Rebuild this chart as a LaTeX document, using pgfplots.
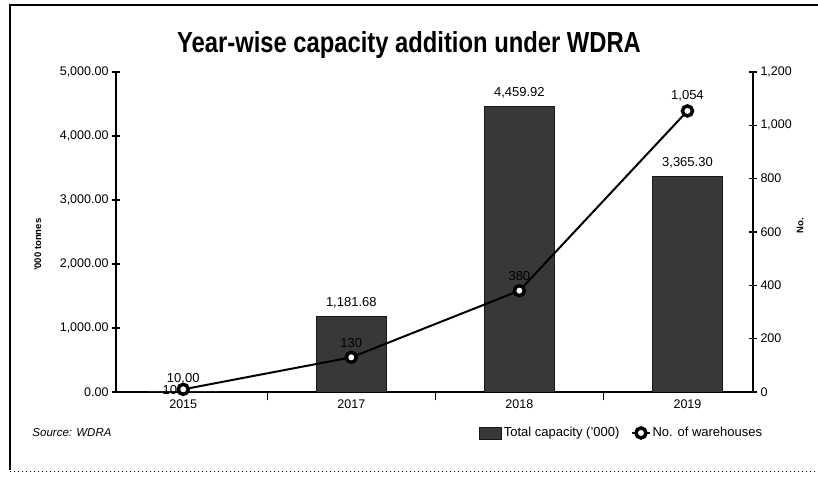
\documentclass[border=0pt]{standalone}
\usepackage{fontspec}
\setmainfont{Liberation Sans}
\usepackage{pgfplots}
\pgfplotsset{compat=1.18}
\usepackage{pgfplotstable}
\pgfplotsset{/pgf/number format/assume math mode=true}
\pgfplotstableread{
x cap
0 10
1 1181.68
2 4459.92
3 3365.30
}\captable
\pgfplotstableread{
x n lab
0 10 10
1 130 130
2 380 380
3 1054 1,054
}\whtable
\begin{document}
\begin{tikzpicture}
\path[use as bounding box] (0,0) rectangle (818pt,487pt);
\draw[line width=1.2pt] (10pt,17pt) -- (10pt,482pt) -- (818pt,482pt);
\draw[line width=1pt, dash pattern=on 1pt off 3pt] (10pt,16pt) -- (818pt,16pt);
\node at (409pt,442pt) {\scalebox{0.82}[1]{\fontsize{29}{32}\selectfont\bfseries Year-wise capacity addition under WDRA}};
\node at (72pt,54pt) {\fontsize{11.5}{13}\selectfont\itshape Source: WDRA};

\begin{axis}[
  at={(116pt,95pt)}, anchor=south west, scale only axis,
  width=637pt, height=320pt,
  xmin=-0.4, xmax=3.39, ymin=0, ymax=5000,
  axis x line=bottom, axis y line=left,
  axis line style={-, line width=1.2pt},
  xtick={0.5,1.5,2.5}, xticklabels={},
  extra x ticks={0,1,2,3}, extra x tick labels={2015,2017,2018,2019},
  extra x tick style={major tick length=0pt, tick label style={yshift=-4pt}},
  ytick={0,1000,...,5000}, scaled y ticks=false,
  y tick label style={/pgf/number format/.cd, fixed, fixed zerofill, precision=2, 1000 sep={,}},
  tick align=center, major tick length=8pt,
  tick style={line width=1.2pt, black},
  tick label style={font=\fontsize{12.5}{14}\selectfont},
  ylabel={\bfseries '000 tonnes},
  ylabel style={at={(rel axis cs:-0.1225,0.46)}, anchor=center, font=\fontsize{9.5}{11}\selectfont},
  ybar, bar width=70pt,
  nodes near coords,
  nodes near coords style={font=\fontsize{13}{15}\selectfont, yshift=5pt, /pgf/number format/.cd, fixed, fixed zerofill, precision=2, 1000 sep={,}},
]
\addplot[fill=black!78, draw=black!90] table[x=x,y=cap]{\captable};
\end{axis}

\begin{axis}[
  at={(116pt,95pt)}, anchor=south west, scale only axis,
  width=637pt, height=320pt,
  xmin=-0.4, xmax=3.39, ymin=0, ymax=1200,
  axis x line=none, axis y line=right,
  axis line style={-, line width=1.2pt},
  ytick={0,200,...,1200}, scaled y ticks=false,
  y tick label style={/pgf/number format/.cd, fixed, precision=0, 1000 sep={,}},
  tick align=center, major tick length=8pt,
  tick style={line width=1.2pt, black},
  tick label style={font=\fontsize{12.5}{14}\selectfont},
  ylabel={\bfseries No.},
  ylabel style={at={(rel axis cs:1.074,0.52)}, anchor=center, font=\fontsize{9.5}{11}\selectfont},
  legend columns=2,
  legend style={at={(0.794,-0.128)}, anchor=center, draw=none, fill=none,
    font=\fontsize{13}{15}\selectfont,
    /tikz/every even column/.append style={column sep=10pt}},
]
\addlegendimage{legend image code/.code={\draw[fill=black!78, draw=black!90] (0pt,-6pt) rectangle (22pt,6pt);}}
\addlegendentry{Total capacity ('000)}
\addplot[black, line width=2pt, mark=*, mark size=5pt,
  mark options={fill=white, draw=black, line width=3.5pt},
  nodes near coords, point meta=explicit symbolic,
  every node near coord/.append style={font=\fontsize{13}{15}\selectfont, yshift=5pt},
  coordinate style/.condition={\coordindex==0}{anchor=east, yshift=-6pt, xshift=-1pt}]
  table[x=x,y=n,meta=lab]{\whtable};
\addlegendentry{No. of warehouses}
\end{axis}
\end{tikzpicture}
\end{document}
